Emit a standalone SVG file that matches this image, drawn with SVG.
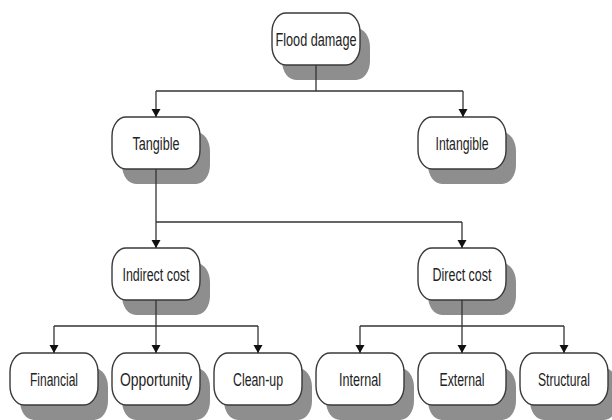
<svg xmlns="http://www.w3.org/2000/svg" width="612" height="420" viewBox="0 0 612 420">
<style>
.sh{fill:#8e8e8e;}
.bx{fill:#fff;stroke:#3a3a3a;stroke-width:1.4;}
.t{font-family:"Liberation Sans",Arial,sans-serif;font-size:17.5px;fill:#222;text-anchor:middle;}
.c{fill:none;stroke:#333;stroke-width:1.3;}
</style>
<defs>
<marker id="ah" viewBox="0 0 8 12" refX="8" refY="6" markerWidth="8" markerHeight="12" markerUnits="userSpaceOnUse" orient="auto">
<path d="M0,1.5 L8,6 L0,10.5 Z" fill="#111"/>
</marker>
</defs>
<rect width="612" height="420" fill="#fff"/>
<g id="n-flood"><rect class="sh" x="282" y="28" width="88" height="52" rx="14" ry="19"/><rect class="bx" x="272" y="13" width="88" height="52" rx="14" ry="19"/><text class="t" x="316" y="45.5" textLength="81" lengthAdjust="spacingAndGlyphs">Flood damage</text></g>
<g id="n-tangible"><rect class="sh" x="122" y="132" width="88" height="52" rx="14" ry="19"/><rect class="bx" x="112" y="117" width="88" height="52" rx="14" ry="19"/><text class="t" x="156" y="149.5" textLength="47" lengthAdjust="spacingAndGlyphs">Tangible</text></g>
<g id="n-intangible"><rect class="sh" x="428" y="132" width="88" height="52" rx="14" ry="19"/><rect class="bx" x="418" y="117" width="88" height="52" rx="14" ry="19"/><text class="t" x="462" y="149.5" textLength="53" lengthAdjust="spacingAndGlyphs">Intangible</text></g>
<g id="n-indirect"><rect class="sh" x="122" y="263" width="88" height="52" rx="14" ry="19"/><rect class="bx" x="112" y="248" width="88" height="52" rx="14" ry="19"/><text class="t" x="156" y="280.5" textLength="67" lengthAdjust="spacingAndGlyphs">Indirect cost</text></g>
<g id="n-direct"><rect class="sh" x="428" y="263" width="88" height="52" rx="14" ry="19"/><rect class="bx" x="418" y="248" width="88" height="52" rx="14" ry="19"/><text class="t" x="462" y="280.5" textLength="59" lengthAdjust="spacingAndGlyphs">Direct cost</text></g>
<g id="n-financial"><rect class="sh" x="20" y="368" width="88" height="52" rx="14" ry="19"/><rect class="bx" x="10" y="353" width="88" height="52" rx="14" ry="19"/><text class="t" x="54" y="385.5" textLength="48" lengthAdjust="spacingAndGlyphs">Financial</text></g>
<g id="n-opportunity"><rect class="sh" x="122" y="368" width="88" height="52" rx="14" ry="19"/><rect class="bx" x="112" y="353" width="88" height="52" rx="14" ry="19"/><text class="t" x="156" y="385.5" textLength="72" lengthAdjust="spacingAndGlyphs">Opportunity</text></g>
<g id="n-cleanup"><rect class="sh" x="224" y="368" width="88" height="52" rx="14" ry="19"/><rect class="bx" x="214" y="353" width="88" height="52" rx="14" ry="19"/><text class="t" x="258" y="385.5" textLength="50" lengthAdjust="spacingAndGlyphs">Clean-up</text></g>
<g id="n-internal"><rect class="sh" x="326" y="368" width="88" height="52" rx="14" ry="19"/><rect class="bx" x="316" y="353" width="88" height="52" rx="14" ry="19"/><text class="t" x="360" y="385.5" textLength="42" lengthAdjust="spacingAndGlyphs">Internal</text></g>
<g id="n-external"><rect class="sh" x="428" y="368" width="88" height="52" rx="14" ry="19"/><rect class="bx" x="418" y="353" width="88" height="52" rx="14" ry="19"/><text class="t" x="462" y="385.5" textLength="45" lengthAdjust="spacingAndGlyphs">External</text></g>
<g id="n-structural"><rect class="sh" x="530" y="368" width="88" height="52" rx="14" ry="19"/><rect class="bx" x="520" y="353" width="88" height="52" rx="14" ry="19"/><text class="t" x="564" y="385.5" textLength="52" lengthAdjust="spacingAndGlyphs">Structural</text></g>
<g id="connectors">
<path class="c" d="M316,65 V91"/>
<path class="c" d="M156,91 H463"/>
<path class="c" d="M156,91 V117" marker-end="url(#ah)"/>
<path class="c" d="M463,91 V117" marker-end="url(#ah)"/>
<path class="c" d="M156,169 V222"/>
<path class="c" d="M156,222 H462"/>
<path class="c" d="M156,222 V248" marker-end="url(#ah)"/>
<path class="c" d="M462,222 V248" marker-end="url(#ah)"/>
<path class="c" d="M54,326 H258"/>
<path class="c" d="M156,300 V353" marker-end="url(#ah)"/>
<path class="c" d="M54,326 V353" marker-end="url(#ah)"/>
<path class="c" d="M258,326 V353" marker-end="url(#ah)"/>
<path class="c" d="M360,326 H564"/>
<path class="c" d="M462,300 V353" marker-end="url(#ah)"/>
<path class="c" d="M360,326 V353" marker-end="url(#ah)"/>
<path class="c" d="M564,326 V353" marker-end="url(#ah)"/>
</g>
</svg>
